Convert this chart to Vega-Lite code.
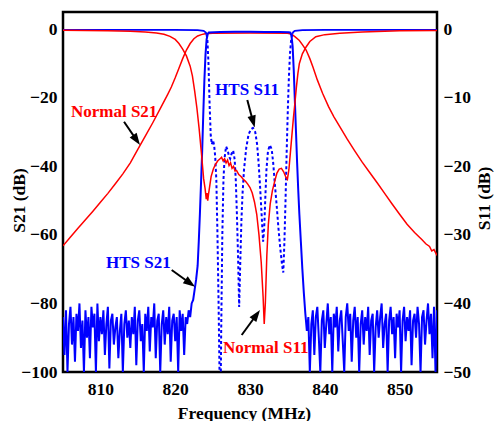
{
"$schema": "https://vega.github.io/schema/vega-lite/v6.json",
"width": 374, "height": 360,
"autosize": {"type": "none"},
"padding": {"left": 63, "top": 12, "right": 57, "bottom": 49},
"background": "white",
"config": {
 "view": {"stroke": "black", "strokeWidth": 2.5},
 "font": "Liberation Serif",
 "axis": {"domain": false, "grid": false, "ticks": true, "tickSize": -7, "tickOpacity": 0, "labelFont": "Liberation Serif", "labelFontWeight": "bold", "labelFontSize": 17.5, "labelColor": "black", "titleFont": "Liberation Serif", "titleFontWeight": "bold", "titleFontSize": 17.5, "titleColor": "black", "labelOverlap": false, "labelFlush": false}
},
"datasets": {
 "xmajor": [{"f":810},{"f":820},{"f":830},{"f":840},{"f":850}],
 "xminor": [{"f":815},{"f":825},{"f":835},{"f":845}],
 "s21major": [{"v":-80},{"v":-60},{"v":-40},{"v":-20},{"v":0}],
 "s21minor": [{"v":-90},{"v":-70},{"v":-50},{"v":-30},{"v":-10}],
 "s11major": [{"v":-40},{"v":-30},{"v":-20},{"v":-10},{"v":0}],
 "s11minor": [{"v":-45},{"v":-35},{"v":-25},{"v":-15},{"v":-5}],
 "hts21": [
  {"f":805.0,"v":-84},{"f":805.2,"v":-95},{"f":805.4,"v":-82},{"f":805.6,"v":-100},{"f":805.8,"v":-86},{"f":806.0,"v":-81},{"f":806.2,"v":-92},{"f":806.4,"v":-84},{"f":806.6,"v":-97},{"f":806.8,"v":-83},
  {"f":807.0,"v":-88},{"f":807.2,"v":-80},{"f":807.4,"v":-93},{"f":807.6,"v":-85},{"f":807.8,"v":-100},{"f":808.0,"v":-82},{"f":808.2,"v":-90},{"f":808.4,"v":-84},{"f":808.6,"v":-96},{"f":808.8,"v":-81},
  {"f":809.0,"v":-87},{"f":809.2,"v":-83},{"f":809.4,"v":-100},{"f":809.6,"v":-80},{"f":809.8,"v":-91},{"f":810.0,"v":-84},{"f":810.2,"v":-89},{"f":810.4,"v":-82},{"f":810.6,"v":-95},{"f":810.8,"v":-86},
  {"f":811.0,"v":-81},{"f":811.2,"v":-99},{"f":811.4,"v":-85},{"f":811.6,"v":-83},{"f":811.8,"v":-92},{"f":812.0,"v":-87},{"f":812.2,"v":-84},{"f":812.4,"v":-96},{"f":812.6,"v":-88},{"f":812.8,"v":-83},
  {"f":813.0,"v":-100},{"f":813.2,"v":-86},{"f":813.4,"v":-82},{"f":813.6,"v":-90},{"f":813.8,"v":-85},{"f":814.0,"v":-93},{"f":814.2,"v":-84},{"f":814.4,"v":-89},{"f":814.6,"v":-81},{"f":814.8,"v":-98},
  {"f":815.0,"v":-85},{"f":815.2,"v":-82},{"f":815.4,"v":-91},{"f":815.6,"v":-86},{"f":815.8,"v":-100},{"f":816.0,"v":-83},{"f":816.2,"v":-88},{"f":816.4,"v":-81},{"f":816.6,"v":-94},{"f":816.8,"v":-84},
  {"f":817.0,"v":-87},{"f":817.2,"v":-80},{"f":817.4,"v":-96},{"f":817.6,"v":-85},{"f":817.8,"v":-83},{"f":818.0,"v":-100},{"f":818.2,"v":-86},{"f":818.4,"v":-82},{"f":818.6,"v":-92},{"f":818.8,"v":-84},
  {"f":819.0,"v":-89},{"f":819.2,"v":-81},{"f":819.4,"v":-97},{"f":819.6,"v":-85},{"f":819.8,"v":-83},{"f":820.0,"v":-91},{"f":820.2,"v":-84},{"f":820.4,"v":-100},{"f":820.6,"v":-82},{"f":820.8,"v":-88},
  {"f":821.0,"v":-83},{"f":821.2,"v":-95},{"f":821.4,"v":-84},{"f":821.6,"v":-86},{"f":821.8,"v":-82},{"f":822.0,"v":-84},{"f":822.2,"v":-80},
  {"f":822.4,"v":-79},{"f":822.6,"v":-76},{"f":822.8,"v":-73},{"f":823.0,"v":-69},{"f":823.15,"v":-62},{"f":823.3,"v":-54},{"f":823.45,"v":-45},{"f":823.6,"v":-36},{"f":823.75,"v":-25},{"f":823.9,"v":-15},{"f":824.05,"v":-7.5},{"f":824.2,"v":-3},{"f":824.35,"v":-1.4},{"f":824.5,"v":-0.95},
  {"f":826,"v":-0.8},{"f":828,"v":-0.75},{"f":830,"v":-0.75},{"f":832,"v":-0.8},{"f":834,"v":-0.8},{"f":835.2,"v":-0.9},
  {"f":835.4,"v":-1.0},{"f":835.55,"v":-2},{"f":835.7,"v":-5},{"f":835.85,"v":-12},{"f":836.0,"v":-21},{"f":836.15,"v":-30},{"f":836.3,"v":-39},{"f":836.45,"v":-47},{"f":836.6,"v":-54},{"f":836.8,"v":-62},{"f":837.0,"v":-70},{"f":837.2,"v":-77},{"f":837.4,"v":-83},
  {"f":837.6,"v":-88},{"f":837.8,"v":-84},{"f":838.0,"v":-100},{"f":838.2,"v":-86},{"f":838.4,"v":-82},{"f":838.6,"v":-95},{"f":838.8,"v":-84},{"f":839.0,"v":-81},{"f":839.2,"v":-90},{"f":839.4,"v":-100},
  {"f":839.6,"v":-85},{"f":839.8,"v":-82},{"f":840.0,"v":-93},{"f":840.2,"v":-86},{"f":840.4,"v":-80},{"f":840.6,"v":-89},{"f":840.8,"v":-84},{"f":841.0,"v":-100},{"f":841.2,"v":-83},{"f":841.4,"v":-87},
  {"f":841.6,"v":-81},{"f":841.8,"v":-94},{"f":842.0,"v":-85},{"f":842.2,"v":-82},{"f":842.4,"v":-91},{"f":842.6,"v":-100},{"f":842.8,"v":-84},{"f":843.0,"v":-80},{"f":843.2,"v":-88},{"f":843.4,"v":-83},
  {"f":843.6,"v":-97},{"f":843.8,"v":-85},{"f":844.0,"v":-81},{"f":844.2,"v":-90},{"f":844.4,"v":-84},{"f":844.6,"v":-100},{"f":844.8,"v":-86},{"f":845.0,"v":-82},{"f":845.2,"v":-92},{"f":845.4,"v":-84},
  {"f":845.6,"v":-88},{"f":845.8,"v":-81},{"f":846.0,"v":-95},{"f":846.2,"v":-85},{"f":846.4,"v":-83},{"f":846.6,"v":-100},{"f":846.8,"v":-87},{"f":847.0,"v":-82},{"f":847.2,"v":-90},{"f":847.4,"v":-84},
  {"f":847.6,"v":-80},{"f":847.8,"v":-93},{"f":848.0,"v":-86},{"f":848.2,"v":-83},{"f":848.4,"v":-100},{"f":848.6,"v":-85},{"f":848.8,"v":-81},{"f":849.0,"v":-89},{"f":849.2,"v":-84},{"f":849.4,"v":-96},
  {"f":849.6,"v":-83},{"f":849.8,"v":-87},{"f":850.0,"v":-82},{"f":850.2,"v":-100},{"f":850.4,"v":-85},{"f":850.6,"v":-81},{"f":850.8,"v":-91},{"f":851.0,"v":-84},{"f":851.2,"v":-88},{"f":851.4,"v":-82},
  {"f":851.6,"v":-98},{"f":851.8,"v":-85},{"f":852.0,"v":-83},{"f":852.2,"v":-90},{"f":852.4,"v":-81},{"f":852.6,"v":-86},{"f":852.8,"v":-100},{"f":853.0,"v":-84},{"f":853.2,"v":-82},{"f":853.4,"v":-92},
  {"f":853.6,"v":-85},{"f":853.8,"v":-80},{"f":854.0,"v":-89},{"f":854.2,"v":-83},{"f":854.4,"v":-96},{"f":854.6,"v":-81},{"f":854.8,"v":-100},{"f":855.0,"v":-82}
 ],
 "n21": [
  {"f":805,"v":-63.2},{"f":806,"v":-60.6},{"f":807,"v":-58.1},{"f":808,"v":-55.6},{"f":809,"v":-53.1},{"f":810,"v":-50.5},{"f":811,"v":-47.9},{"f":812,"v":-45.1},{"f":813,"v":-42.2},{"f":814,"v":-39},
  {"f":815,"v":-35.1},{"f":816,"v":-31.2},{"f":817,"v":-27.3},{"f":818,"v":-23.2},{"f":819,"v":-19},{"f":819.5,"v":-16.8},{"f":820,"v":-14.2},{"f":820.5,"v":-11.4},{"f":821,"v":-8.6},{"f":821.5,"v":-6.1},
  {"f":822,"v":-4.2},{"f":822.5,"v":-2.8},{"f":823,"v":-2.0},{"f":823.5,"v":-1.6},{"f":824,"v":-1.35},{"f":825,"v":-1.2},{"f":830,"v":-1.15},{"f":835,"v":-1.2},{"f":835.5,"v":-1.4},{"f":836,"v":-2.2},
  {"f":836.6,"v":-3.3},{"f":837,"v":-4.5},{"f":837.5,"v":-6.1},{"f":838,"v":-8.6},{"f":838.4,"v":-11},{"f":839,"v":-14.8},{"f":839.7,"v":-18.7},{"f":840.5,"v":-22.6},{"f":841.2,"v":-25.5},{"f":842,"v":-28.4},
  {"f":843,"v":-32.1},{"f":844,"v":-35.5},{"f":845,"v":-38.8},{"f":846,"v":-41.8},{"f":847,"v":-44.8},{"f":848,"v":-47.9},{"f":849,"v":-51},{"f":850,"v":-54},{"f":851,"v":-56.9},{"f":852,"v":-59.3},
  {"f":853,"v":-61.4},{"f":853.5,"v":-62.6},{"f":854,"v":-63.4},{"f":854.3,"v":-64.7},{"f":854.6,"v":-64.3},{"f":855,"v":-66}
 ],
 "hts11": [
  {"f":805,"v":-0.1},{"f":810,"v":-0.1},{"f":815,"v":-0.1},{"f":820,"v":-0.1},{"f":823,"v":-0.15},{"f":823.8,"v":-0.25},{"f":824.1,"v":-0.5},{"f":824.2,"v":-0.8},
  {"f":824.3,"v":-1.5},{"f":824.45,"v":-5},{"f":824.6,"v":-11},{"f":824.75,"v":-15.5},{"f":824.9,"v":-16.8},{"f":825.05,"v":-16.2},{"f":825.2,"v":-16.9},{"f":825.35,"v":-18.6},{"f":825.5,"v":-22},{"f":825.65,"v":-30},
  {"f":825.8,"v":-40},{"f":825.95,"v":-52},{"f":826.05,"v":-56},{"f":826.15,"v":-44},{"f":826.3,"v":-30},{"f":826.45,"v":-22},{"f":826.6,"v":-18.8},{"f":826.8,"v":-17.1},{"f":827.0,"v":-17.6},{"f":827.2,"v":-18.6},
  {"f":827.35,"v":-18.9},{"f":827.55,"v":-18.1},{"f":827.75,"v":-17.7},{"f":827.95,"v":-19},{"f":828.1,"v":-22},{"f":828.25,"v":-27},{"f":828.4,"v":-33},{"f":828.55,"v":-40.5},{"f":828.7,"v":-34},{"f":828.85,"v":-28},
  {"f":829.0,"v":-24},{"f":829.2,"v":-20.5},{"f":829.5,"v":-17.3},{"f":829.8,"v":-15.4},{"f":830.1,"v":-14.6},{"f":830.4,"v":-14.4},{"f":830.7,"v":-15},{"f":830.95,"v":-16.8},{"f":831.15,"v":-19.5},{"f":831.35,"v":-23},
  {"f":831.55,"v":-27},{"f":831.75,"v":-31},{"f":831.9,"v":-29},{"f":832.05,"v":-24.5},{"f":832.2,"v":-20.5},{"f":832.4,"v":-17.8},{"f":832.65,"v":-16.9},{"f":832.9,"v":-17.5},{"f":833.1,"v":-19.5},{"f":833.3,"v":-22.3},
  {"f":833.55,"v":-25.5},{"f":833.8,"v":-29},{"f":834.05,"v":-32},{"f":834.3,"v":-34.5},{"f":834.45,"v":-35.5},{"f":834.6,"v":-31},{"f":834.75,"v":-25},{"f":834.9,"v":-18},{"f":835.05,"v":-12},{"f":835.2,"v":-7},
  {"f":835.35,"v":-3.5},{"f":835.5,"v":-1.6},{"f":835.65,"v":-0.7},{"f":835.8,"v":-0.4},{"f":836.0,"v":-0.25},{"f":837,"v":-0.15},{"f":840,"v":-0.1},{"f":845,"v":-0.1},{"f":850,"v":-0.1},{"f":855,"v":-0.1}
 ],
 "n11": [
  {"f":805,"v":-0.15},{"f":808,"v":-0.2},{"f":811,"v":-0.25},{"f":814,"v":-0.3},{"f":816,"v":-0.4},{"f":817.5,"v":-0.55},{"f":818.5,"v":-0.75},{"f":819.3,"v":-1.05},{"f":820,"v":-1.5},{"f":820.5,"v":-2.1},
  {"f":821,"v":-2.9},{"f":821.5,"v":-3.9},{"f":822,"v":-5.4},{"f":822.3,"v":-6.8},{"f":822.6,"v":-9},{"f":822.9,"v":-11.5},{"f":823.2,"v":-14.5},{"f":823.5,"v":-18},{"f":823.8,"v":-21.8},{"f":824.0,"v":-23.3},
  {"f":824.15,"v":-24.8},{"f":824.25,"v":-23.9},{"f":824.35,"v":-25},{"f":824.45,"v":-24.1},{"f":824.6,"v":-23},{"f":824.8,"v":-21.5},{"f":825.1,"v":-20.4},{"f":825.4,"v":-19.7},{"f":825.7,"v":-19.2},{"f":826.0,"v":-18.9},
  {"f":826.2,"v":-18.7},{"f":826.4,"v":-19.2},{"f":826.6,"v":-18.9},{"f":826.8,"v":-19.5},{"f":827.0,"v":-19.1},{"f":827.2,"v":-19.9},{"f":827.4,"v":-19.5},{"f":827.6,"v":-20.3},{"f":827.8,"v":-20.0},{"f":828.0,"v":-20.7},
  {"f":828.2,"v":-20.6},{"f":828.5,"v":-21.2},{"f":828.8,"v":-21.5},{"f":829.1,"v":-21.9},{"f":829.4,"v":-22.2},{"f":829.7,"v":-22.6},{"f":830.0,"v":-23.1},{"f":830.3,"v":-23.9},{"f":830.6,"v":-25.2},{"f":830.9,"v":-27},
  {"f":831.2,"v":-30},{"f":831.5,"v":-34},{"f":831.75,"v":-39},{"f":831.9,"v":-43},{"f":832.05,"v":-40},{"f":832.25,"v":-33},{"f":832.45,"v":-28.5},{"f":832.7,"v":-25.5},{"f":833.0,"v":-23.5},{"f":833.3,"v":-22.2},
  {"f":833.6,"v":-21},{"f":833.9,"v":-20.4},{"f":834.2,"v":-20.3},{"f":834.5,"v":-20.8},{"f":834.8,"v":-21.6},{"f":835.0,"v":-21.9},{"f":835.2,"v":-20.5},{"f":835.4,"v":-18},{"f":835.6,"v":-15.5},{"f":835.8,"v":-13},
  {"f":836.0,"v":-10.8},{"f":836.2,"v":-8.5},{"f":836.4,"v":-6.5},{"f":836.6,"v":-5},{"f":837.0,"v":-3.6},{"f":837.5,"v":-2.6},{"f":838.0,"v":-1.8},{"f":838.8,"v":-1.1},{"f":840,"v":-0.8},{"f":842,"v":-0.6},
  {"f":845,"v":-0.4},{"f":850,"v":-0.25},{"f":855,"v":-0.2}
 ],
 "arrows": [
  {"f":813.16,"v":-27.0,"f2":814.84,"v2":-32.36},
  {"f":829.64,"v":-20.67,"f2":830.41,"v2":-27.0},
  {"f":819.53,"v":-70.25,"f2":821.99,"v2":-74.1},
  {"f":828.89,"v":-89.2,"f2":830.87,"v2":-83.3}
 ],
 "redlabels": [
  {"f":811.84,"v":-24.08,"t":"Normal S21"},
  {"f":832.11,"v":-93.1,"t":"Normal S11"}
 ],
 "bluelabels": [
  {"f":829.6,"v":-17.75,"t":"HTS S11"},
  {"f":815.07,"v":-68.3,"t":"HTS S21"}
 ]
},
"encoding": {
 "x": {"field": "f", "type": "quantitative", "scale": {"domain": [805, 855], "nice": false, "zero": false},
  "axis": {"orient": "bottom", "values": [810,815,820,825,830,835,840,845,850], "labelExpr": "datum.value % 10 === 0 ? datum.label : ''",
   "labelPadding": 15.5, "labelBaseline": "top", "title": "Frequency (MHz)", "titleX": 181, "titleY": 46, "titleBaseline": "alphabetic", "titleAlign": "center"}}
},
"layer": [
 {
  "encoding": {"y": {"field": "v", "type": "quantitative", "scale": {"domain": [-100, 5], "nice": false, "zero": false},
   "axis": {"orient": "left", "values": [-100,-90,-80,-70,-60,-50,-40,-30,-20,-10,0], "labelExpr": "datum.value % 20 === 0 ? datum.label : ''",
    "labelPadding": 13, "title": "S21 (dB)", "titleX": -44, "titleY": 188, "titleAngle": 270, "titleBaseline": "middle", "titleAlign": "center"}}},
  "layer": [
   {"data": {"name": "n21"}, "mark": {"type": "line", "color": "#ff0000", "strokeWidth": 1.5, "clip": true}},
   {"data": {"name": "hts21"}, "mark": {"type": "line", "color": "#0000ff", "strokeWidth": 2, "clip": true}},
   {"data": {"name": "xmajor"}, "mark": {"type": "rule", "color": "black", "strokeWidth": 2}, "encoding": {"y": {"datum": -100}, "y2": {"datum": -97.96}}},
   {"data": {"name": "xminor"}, "mark": {"type": "rule", "color": "black", "strokeWidth": 2}, "encoding": {"y": {"datum": -100}, "y2": {"datum": -98.54}}},
   {"data": {"name": "s21major"}, "mark": {"type": "rule", "color": "black", "strokeWidth": 2}, "encoding": {"x": {"datum": 805}, "x2": {"datum": 805.94}}},
   {"data": {"name": "s21minor"}, "mark": {"type": "rule", "color": "black", "strokeWidth": 2}, "encoding": {"x": {"datum": 805}, "x2": {"datum": 805.67}}},
   {"data": {"name": "arrows"}, "mark": {"type": "rule", "color": "black", "strokeWidth": 2}, "encoding": {"x2": {"field": "f2"}, "y2": {"field": "v2"}}},
   {"data": {"values": [{"f":815.29,"v":-33.8}]}, "mark": {"type": "point", "shape": "M0,0L-0.7,2L0.7,2Z", "size": 144, "angle": 145.5, "filled": true, "color": "black", "opacity": 1, "strokeWidth": 0}},
   {"data": {"values": [{"f":830.63,"v":-28.69}]}, "mark": {"type": "point", "shape": "M0,0L-0.7,2L0.7,2Z", "size": 144, "angle": 164.9, "filled": true, "color": "black", "opacity": 1, "strokeWidth": 0}},
   {"data": {"values": [{"f":822.65,"v":-75.12}]}, "mark": {"type": "point", "shape": "M0,0L-0.7,2L0.7,2Z", "size": 144, "angle": 125.6, "filled": true, "color": "black", "opacity": 1, "strokeWidth": 0}},
   {"data": {"values": [{"f":831.34,"v":-81.9}]}, "mark": {"type": "point", "shape": "M0,0L-0.7,2L0.7,2Z", "size": 144, "angle": 36.2, "filled": true, "color": "black", "opacity": 1, "strokeWidth": 0}},
   {"data": {"name": "redlabels"}, "mark": {"type": "text", "color": "#ff0000", "font": "Liberation Serif", "fontWeight": "bold", "fontSize": 17, "align": "center", "baseline": "middle"}, "encoding": {"text": {"field": "t"}}},
   {"data": {"name": "bluelabels"}, "mark": {"type": "text", "color": "#0000ff", "font": "Liberation Serif", "fontWeight": "bold", "fontSize": 17, "align": "center", "baseline": "middle"}, "encoding": {"text": {"field": "t"}}}
  ]
 },
 {
  "encoding": {"y": {"field": "v", "type": "quantitative", "scale": {"domain": [-50, 2.5], "nice": false, "zero": false},
   "axis": {"orient": "right", "values": [-50,-45,-40,-35,-30,-25,-20,-15,-10,-5,0], "labelExpr": "datum.value % 10 === 0 ? datum.label : ''",
    "labelPadding": 13, "title": "S11 (dB)", "titleX": 47.7, "titleY": 186, "titleAngle": 270, "titleBaseline": "middle", "titleAlign": "center"}}},
  "layer": [
   {"data": {"name": "hts11"}, "transform": [{"filter": "datum.f <= 824.2"}], "mark": {"type": "line", "color": "#0000ff", "strokeWidth": 1.8, "clip": true}},
   {"data": {"name": "hts11"}, "transform": [{"filter": "datum.f >= 824.2 && datum.f <= 835.65"}], "mark": {"type": "line", "color": "#0000ff", "strokeWidth": 2, "strokeDash": [3, 2.5], "clip": true}},
   {"data": {"name": "hts11"}, "transform": [{"filter": "datum.f >= 835.65"}], "mark": {"type": "line", "color": "#0000ff", "strokeWidth": 1.8, "clip": true}},
   {"data": {"name": "n11"}, "mark": {"type": "line", "color": "#ff0000", "strokeWidth": 1.5, "clip": true}},
   {"data": {"name": "s11major"}, "mark": {"type": "rule", "color": "black", "strokeWidth": 2}, "encoding": {"x": {"datum": 855}, "x2": {"datum": 854.06}}},
   {"data": {"name": "s11minor"}, "mark": {"type": "rule", "color": "black", "strokeWidth": 2}, "encoding": {"x": {"datum": 855}, "x2": {"datum": 854.33}}}
  ]
 }
],
"resolve": {"scale": {"y": "independent"}}
}
